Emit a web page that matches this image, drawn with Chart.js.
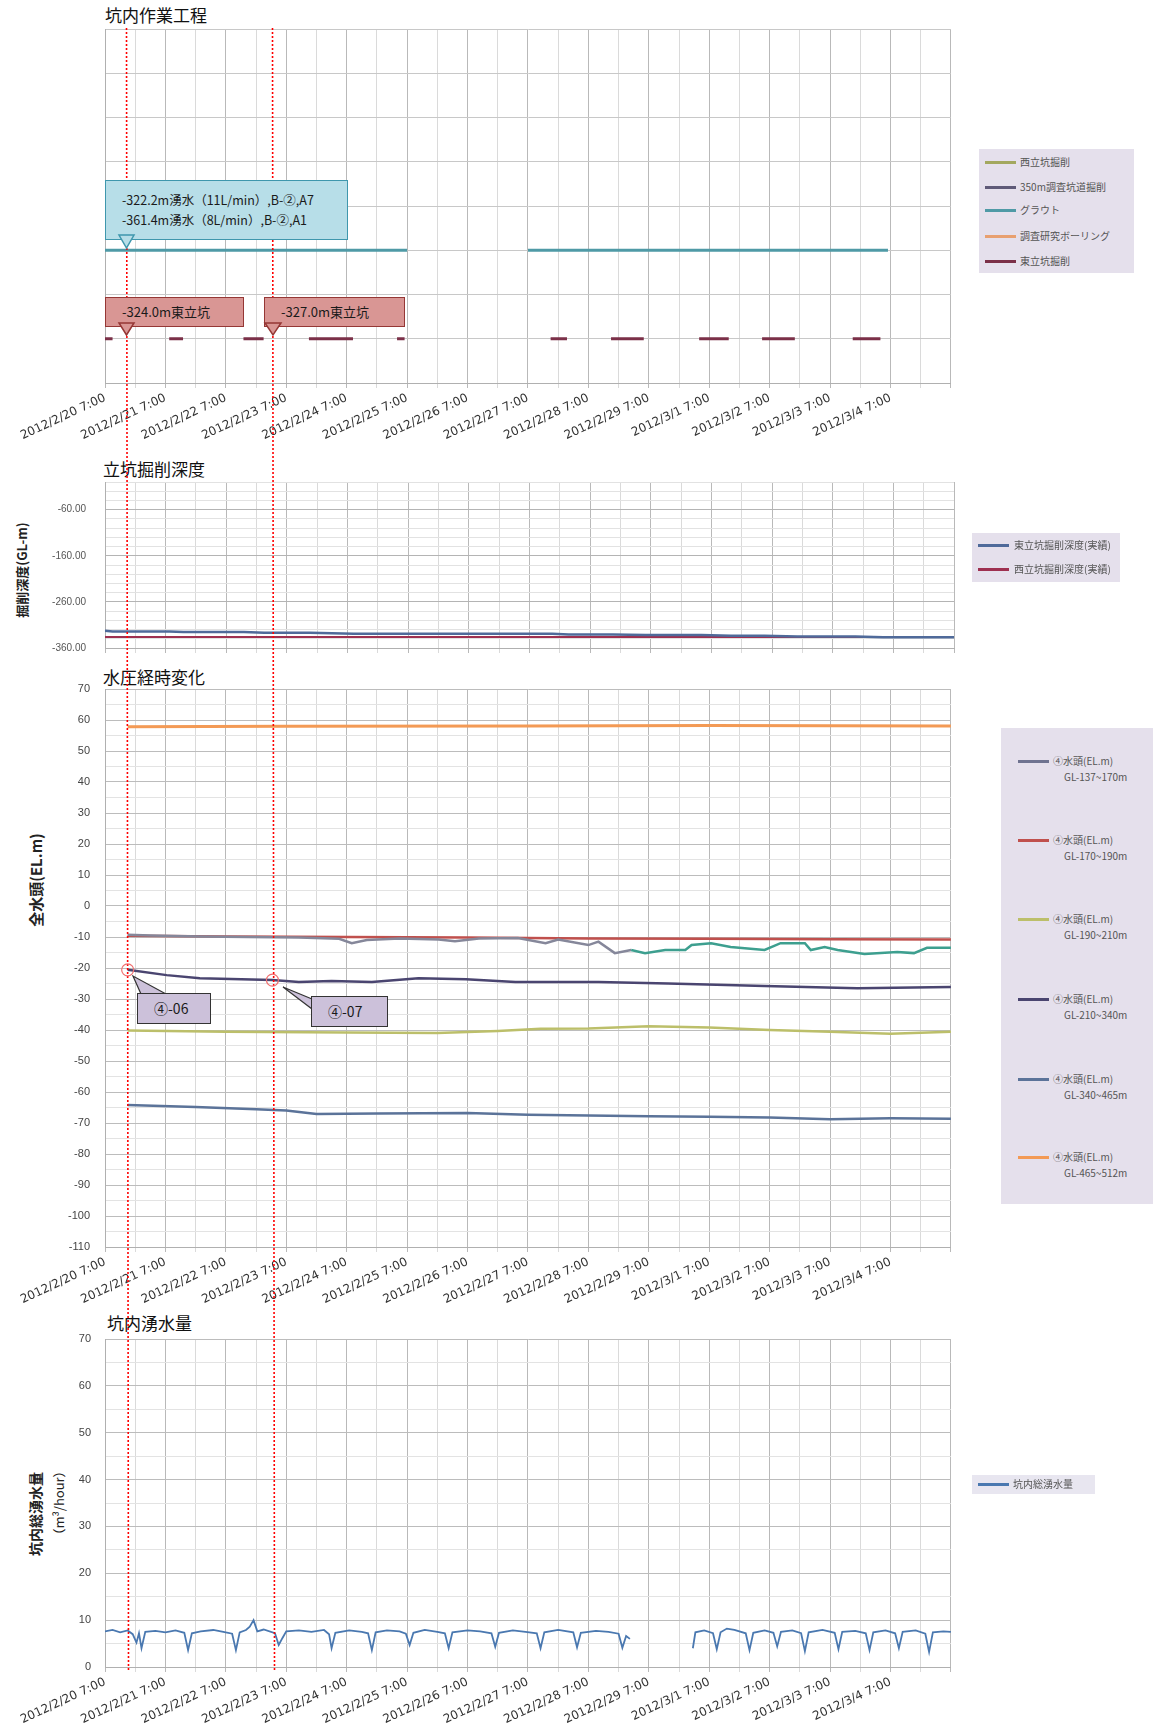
<!DOCTYPE html>
<html lang="ja">
<head>
<meta charset="utf-8">
<title>坑内作業工程・立坑掘削深度・水圧経時変化・坑内湧水量</title>
<script src="https://cdn.jsdelivr.net/npm/chart.js@4.4.1/dist/chart.umd.min.js"></script>
<style>
  html, body { margin: 0; padding: 0; background: #fff; }
  body { position: relative; width: 1153px; height: 1735px; overflow: hidden;
         font-family: "Noto Sans CJK JP", "Noto Sans", sans-serif; }
  canvas { position: absolute; left: 0; }
  .ttl { position: absolute; font-size: 17px; line-height: 20px; color: #111; }
  .ytitle { position: absolute; transform: translate(-50%, -50%) rotate(-90deg); white-space: nowrap;
            font-weight: bold; color: #222; line-height: 1; }
  .legend { position: absolute; background: #e5e0ec; }
  .lg-item { position: absolute; font-size: 10px; line-height: 12px; color: #555; white-space: nowrap; }
  .lg-line { position: absolute; height: 3px; }
  .callout { position: absolute; box-sizing: border-box; color: #1a1a1a; white-space: nowrap; }
  svg.layer { position: absolute; left: 0; top: 0; pointer-events: none; }
</style>
</head>
<body>

<div class="ttl" style="left:105px; top:5px;">坑内作業工程</div>
<div class="ttl" style="left:103px; top:459px;">立坑掘削深度</div>
<div class="ttl" style="left:103px; top:667px;">水圧経時変化</div>
<div class="ttl" style="left:107px; top:1313px;">坑内湧水量</div>

<div class="ytitle" style="left:21px; top:570px; font-size:13px;">掘削深度(GL-m)</div>
<div class="ytitle" style="left:35px; top:880px; font-size:15px;">全水頭(EL.m)</div>
<div class="ytitle" style="left:35px; top:1514px; font-size:14px;">坑内総湧水量</div>
<div class="ytitle" style="left:58px; top:1503px; font-size:13px; font-weight:normal;">（m³/hour）</div>

<canvas id="work" width="960" height="419" style="top:24px"></canvas>
<canvas id="depth" width="960" height="178" style="top:476px"></canvas>
<canvas id="head" width="960" height="627" style="top:680px"></canvas>
<canvas id="flow" width="960" height="401" style="top:1330px"></canvas>

<svg class="layer" id="under" width="1153" height="1735"></svg>

<div class="callout" style="left:105px; top:180px; width:243px; height:60px; background:#b7dee8; border:1.5px solid #3f97ad; font-size:12.5px; line-height:20px; padding:9px 0 0 16px;">
  -322.2m湧水（11L/min）,B-②,A7<br>-361.4m湧水（8L/min）,B-②,A1
</div>
<div class="callout" style="left:105px; top:297px; width:139px; height:30px; background:#d99694; border:1.5px solid #953735; font-size:13px; line-height:28px; padding-left:16px;">-324.0m東立坑</div>
<div class="callout" style="left:264px; top:297px; width:141px; height:30px; background:#d99694; border:1.5px solid #953735; font-size:13px; line-height:28px; padding-left:16px;">-327.0m東立坑</div>
<div class="callout" style="left:137px; top:993px; width:74px; height:31px; background:#ccc1da; border:1.5px solid #333; font-size:14px; line-height:29px; padding-left:16px;">④-06</div>
<div class="callout" style="left:311px; top:996px; width:77px; height:31px; background:#ccc1da; border:1.5px solid #333; font-size:14px; line-height:29px; padding-left:16px;">④-07</div>

<svg class="layer" id="over" width="1153" height="1735"></svg>

<div class="legend" id="lgWork" style="left:979px; top:149px; width:155px; height:124px;"></div>
<div class="legend" id="lgDepth" style="left:972px; top:533px; width:148px; height:49px;"></div>
<div class="legend" id="lgHead" style="left:1001px; top:728px; width:152px; height:476px;"></div>
<div class="legend" id="lgFlow" style="left:972px; top:1475px; width:123px; height:19px; background:#e8e6f0;"></div>

<script>
// ---- time range (2012) ----
const START = '2/20 7:00';
const END = '3/5 7:00';
const HOUR = 3600000;

// ---- 坑内作業工程 ----
const workLabels = ['西立坑掘削', '350m調査坑道掘削', 'グラウト', '調査研究ボーリング', '東立坑掘削'];
const workColors = ['#a3a85f', '#5f5a78', '#4f9aa6', '#e8a070', '#7b3048'];
const groutStart = ['2/20 7:00', '2/27 7:00'];
const groutEnd = ['2/25 7:00', '3/4 6:00'];
const eastDigStart = ['2/20 7:00', '2/21 8:30', '2/22 14:00', '2/23 16:00', '2/25 3:00',
                      '2/27 16:00', '2/28 16:00', '3/1 3:00', '3/2 4:00', '3/3 16:00'];
const eastDigEnd = ['2/20 10:00', '2/21 14:00', '2/22 22:00', '2/24 9:30', '2/25 6:00',
                    '2/27 22:30', '2/29 5:00', '3/1 14:45', '3/2 17:00', '3/4 3:00'];
const groutRow = 3;
const eastDigRow = 1;

// ---- 立坑掘削深度 (GL-m) ----
const eastDepthTimes = ['2/20 7:00', '2/20 10:00', '2/21 8:30', '2/21 14:00', '2/22 14:00', '2/22 22:00',
                        '2/23 16:00', '2/24 9:30', '2/27 16:00', '2/27 22:30', '2/28 16:00', '2/29 5:00',
                        '3/1 3:00', '3/1 14:45', '3/2 4:00', '3/2 17:00', '3/3 16:00', '3/4 3:00', '3/5 7:00'];
const eastDepth = [-322.8, -324.0, -324.0, -325.5, -325.5, -327.0, -327.0, -329.0, -329.0, -330.5,
                   -330.5, -332.0, -332.0, -333.5, -333.5, -335.0, -335.0, -336.5, -336.5];
const westDepthTimes = ['2/20 7:00', '3/5 7:00'];
const westDepth = [-336.0, -336.0];

// ---- 水圧経時変化 (EL.m) ----
const headLabels = ['④水頭(EL.m)\nGL-137~170m', '④水頭(EL.m)\nGL-170~190m', '④水頭(EL.m)\nGL-190~210m',
                    '④水頭(EL.m)\nGL-210~340m', '④水頭(EL.m)\nGL-340~465m', '④水頭(EL.m)\nGL-465~512m'];
const headColors = ['#6f7390', '#c0504d', '#bcbf6a', '#4a4570', '#5b7399', '#f39a55'];
const head1Times = ['2/20 16:00', '2/21 1:00', '2/21 21:00', '2/22 16:00', '2/23 12:00', '2/24 4:00',
                    '2/24 9:00', '2/24 15:00', '2/25 4:00', '2/25 19:30', '2/26 2:00', '2/26 11:30',
                    '2/27 3:00', '2/27 14:00', '2/27 19:00', '2/28 7:00', '2/28 11:00', '2/28 17:30',
                    '2/29 0:00', '2/29 5:30', '2/29 13:30', '2/29 21:30', '3/1 0:00', '3/1 7:45',
                    '3/1 15:30', '3/2 5:00', '3/2 11:20', '3/2 21:00', '3/2 23:20', '3/3 4:50',
                    '3/3 10:00', '3/3 20:40', '3/4 9:40', '3/4 16:20', '3/4 21:30', '3/5 7:00'];
const head1 = [-9.3, -9.5, -9.8, -10.0, -10.2, -10.6, -12.0, -11.0, -10.5, -10.8, -11.4, -10.5,
               -10.3, -12.0, -10.8, -12.6, -11.5, -15.2, -14.2, -15.2, -14.2, -14.2, -12.6, -12.0,
               -13.2, -14.2, -12.0, -12.0, -14.2, -13.2, -14.2, -15.5, -14.8, -15.2, -13.5, -13.5];
const head1TealFrom = '2/29 0:00';
const head2Times = ['2/20 16:00', '2/22 7:00', '2/24 7:00', '2/26 7:00', '2/28 7:00', '3/1 7:00', '3/3 7:00', '3/5 7:00'];
const head2 = [-9.6, -9.8, -10.0, -10.2, -10.5, -10.6, -10.7, -10.8];
const head3Times = ['2/20 16:00', '2/22 7:00', '2/24 7:00', '2/25 19:00', '2/26 19:00', '2/27 12:00', '2/28 7:00',
                    '2/29 7:00', '3/1 7:00', '3/2 7:00', '3/3 7:00', '3/4 7:00', '3/5 7:00'];
const head3 = [-40.2, -40.6, -40.8, -41.0, -40.3, -39.6, -39.5, -38.8, -39.2, -40.0, -40.6, -41.2, -40.6];
const head4Times = ['2/20 16:00', '2/21 7:30', '2/21 20:40', '2/23 1:30', '2/23 12:00', '2/24 1:00', '2/24 17:00',
                    '2/25 11:30', '2/26 6:20', '2/27 2:00', '2/28 11:00', '2/29 14:40', '3/2 5:00', '3/3 17:50', '3/5 7:00'];
const head4 = [-20.6, -22.3, -23.3, -23.9, -24.5, -24.2, -24.5, -23.3, -23.6, -24.5, -24.5, -25.0, -25.8, -26.5, -26.1];
const head5Times = ['2/20 16:00', '2/21 19:00', '2/22 19:00', '2/23 7:00', '2/23 19:00', '2/24 19:00', '2/26 7:00',
                    '2/27 7:00', '2/28 7:00', '2/29 7:00', '3/1 7:00', '3/2 7:00', '3/3 7:00', '3/4 7:00', '3/5 7:00'];
const head5 = [-64.2, -64.8, -65.6, -66.0, -67.1, -66.9, -66.8, -67.3, -67.6, -67.8, -68.0, -68.2, -68.8, -68.5, -68.6];
const head6Times = ['2/20 16:00', '2/23 7:00', '2/27 7:00', '3/1 7:00', '3/5 7:00'];
const head6 = [57.8, 58.0, 58.1, 58.2, 58.1];
// section marks on the ④ line
const sectionMarks = [['2/20 16:00', -20.6], ['2/23 1:30', -23.9]];

// ---- 坑内総湧水量 (m3/hour) ----
const flowTimes = ['2/20 7:00', '2/20 10:00', '2/20 13:00', '2/20 16:00', '2/20 18:00', '2/20 19:30', '2/20 20:30',
  '2/20 21:30', '2/20 23:00', '2/21 3:00', '2/21 7:00', '2/21 11:00', '2/21 14:30', '2/21 16:00', '2/21 17:30',
  '2/21 21:00', '2/22 2:00', '2/22 6:00', '2/22 9:30', '2/22 11:00', '2/22 12:30', '2/22 15:00', '2/22 16:30',
  '2/22 18:00', '2/22 19:30', '2/22 22:00', '2/23 2:30', '2/23 4:00', '2/23 5:30', '2/23 7:00', '2/23 12:00',
  '2/23 17:00', '2/23 22:00', '2/24 0:00', '2/24 1:00', '2/24 2:30', '2/24 8:00', '2/24 13:00', '2/24 15:30',
  '2/24 17:00', '2/24 18:30', '2/24 23:00', '2/25 4:00', '2/25 6:30', '2/25 8:00', '2/25 9:30', '2/25 14:00',
  '2/25 19:00', '2/25 22:00', '2/25 23:30', '2/26 1:00', '2/26 7:00', '2/26 12:00', '2/26 16:30', '2/26 18:00',
  '2/26 19:30', '2/27 1:00', '2/27 6:00', '2/27 10:30', '2/27 12:00', '2/27 13:30', '2/27 19:00', '2/28 1:00',
  '2/28 2:30', '2/28 4:00', '2/28 10:00', '2/28 15:00', '2/28 19:00', '2/28 20:30', '2/28 22:00', '2/28 23:30',
  '2/29 12:00',
  '3/1 0:30', '3/1 1:30', '3/1 5:00', '3/1 8:30', '3/1 10:00', '3/1 11:30', '3/1 14:00', '3/1 17:00', '3/1 21:30',
  '3/1 23:00', '3/2 0:30', '3/2 5:00', '3/2 8:30', '3/2 10:00', '3/2 11:30', '3/2 16:00', '3/2 19:30', '3/2 21:00',
  '3/2 22:30', '3/3 4:00', '3/3 8:50', '3/3 10:20', '3/3 11:50', '3/3 17:00', '3/3 21:10', '3/3 22:40', '3/4 0:10',
  '3/4 5:00', '3/4 8:50', '3/4 10:20', '3/4 11:50', '3/4 17:00', '3/4 20:50', '3/4 22:20', '3/4 23:50', '3/5 4:00',
  '3/5 7:00'];
const flow = [7.6, 7.9, 7.4, 7.8, 7.0, 5.2, 7.2,
  4.0, 7.5, 7.7, 7.4, 7.8, 7.3, 3.6, 7.2,
  7.6, 7.9, 7.5, 7.1, 3.6, 7.4, 7.9, 8.6,
  10.0, 7.6, 8.0, 7.2, 4.7, 6.2, 7.6, 7.8,
  7.5, 7.9, 7.0, 4.0, 7.3, 7.8, 7.5, 7.2,
  3.6, 7.4, 7.8, 7.6, 7.1, 4.7, 7.3, 7.9,
  7.5, 7.2, 4.0, 7.4, 7.8, 7.6, 7.2, 4.3,
  7.3, 7.8, 7.5, 7.2, 4.0, 7.4, 7.9, 7.4,
  4.2, 7.3, 7.7, 7.5, 7.1, 4.1, 6.6, 6.0,
  null,
  4.0, 7.4, 7.8, 7.2, 3.8, 7.4, 8.2, 7.9, 7.2,
  3.6, 7.3, 7.8, 7.3, 4.4, 7.5, 7.8, 7.2, 3.4,
  7.4, 7.9, 7.3, 3.8, 7.5, 7.7, 7.2, 3.6, 7.4,
  7.8, 7.2, 4.0, 7.5, 7.8, 7.1, 3.2, 7.4, 7.6,
  7.5];

// red dotted reference times
const markerTimes = ['2/20 15:30', '2/23 1:30'];

// ---- helpers ----
function t(s) {
  const [md, hm] = s.split(' ');
  const [m, d] = md.split('/').map(Number);
  const [h, mi] = hm.split(':').map(Number);
  return Date.UTC(2012, m - 1, d, h, mi);
}
const isDay = v => new Date(v).getUTCHours() === 7;
const fmt = v => { const d = new Date(v); return `2012/${d.getUTCMonth() + 1}/${d.getUTCDate()} ${d.getUTCHours()}:00`; };
const pts = (times, vals) => times.map((s, i) => ({ x: t(s), y: vals[i] }));
function bars(starts, ends, row) {
  const out = [];
  starts.forEach((s, i) => {
    out.push({ x: t(s), y: row }, { x: t(ends[i]), y: row }, { x: t(ends[i]) + 1, y: null });
  });
  return out;
}
// fixed y-axis width, no extra label padding above/below the plot
const fixY = s => { s.width = 105; s.paddingTop = 0; s.paddingBottom = 0; };

Chart.defaults.font.family = '"Liberation Sans", sans-serif';
Chart.defaults.color = '#333';

function xAxis(showLabels, height) {
  return {
    type: 'linear', min: t(START), max: t(END),
    afterBuildTicks: s => {
      s.ticks = [];
      for (let v = t(START); v <= t(END); v += 12 * HOUR) s.ticks.push({ value: v });
    },
    afterFit: s => { s.height = height; },
    grid: { color: c => isDay(c.tick.value) ? '#b9b9b9' : '#dadada', tickLength: 5, drawTicks: true },
    border: { color: '#b0b0b0' },
    ticks: {
      display: showLabels, autoSkip: false, minRotation: 25, maxRotation: 25, padding: 3,
      color: '#333', font: { family: '"DejaVu Sans", sans-serif', size: 12 },
      callback: v => (isDay(v) && v < t(END)) ? fmt(v) : ''
    }
  };
}

const common = {
  responsive: false, animation: false,
  plugins: { legend: { display: false }, tooltip: { enabled: false } },
  elements: { point: { radius: 0 }, line: { tension: 0 } }
};

// 坑内作業工程
const workChart = new Chart(document.getElementById('work'), {
  type: 'line',
  data: {
    datasets: workLabels.map((label, i) => ({
      label, borderColor: workColors[i], borderWidth: 3,
      data: i === 2 ? bars(groutStart, groutEnd, groutRow) : i === 4 ? bars(eastDigStart, eastDigEnd, eastDigRow) : []
    }))
  },
  options: {
    ...common,
    layout: { padding: { left: 0, right: 6, top: 5, bottom: 0 } },
    scales: {
      x: xAxis(true, 60),
      y: {
        min: 0, max: 8, ticks: { stepSize: 1, display: false },
        grid: { color: '#c8c8c8', drawTicks: false }, border: { color: '#b0b0b0' },
        afterFit: fixY
      }
    }
  }
});

// 立坑掘削深度
const depthChart = new Chart(document.getElementById('depth'), {
  type: 'line',
  data: {
    datasets: [
      { label: '東立坑掘削深度(実績)', borderColor: '#4f6a9a', borderWidth: 2.5, data: pts(eastDepthTimes, eastDepth) },
      { label: '西立坑掘削深度(実績)', borderColor: '#9e3050', borderWidth: 2, data: pts(westDepthTimes, westDepth) }
    ]
  },
  options: {
    ...common,
    layout: { padding: { left: 0, right: 6, top: 6, bottom: 0 } },
    scales: {
      x: xAxis(false, 6),
      y: {
        min: -360, max: 0,
        afterBuildTicks: s => { s.ticks = []; for (let v = -360; v <= 0; v += 20) s.ticks.push({ value: v }); },
        ticks: { autoSkip: false, padding: 19, color: '#555', font: { size: 10 },
                 callback: v => ((v + 360) % 100 === 0 && v < 0) ? v.toFixed(2) : '' },
        grid: { color: c => (c.tick.value + 360) % 100 === 0 ? '#b4b4b4' : '#e2e2e2', drawTicks: false },
        border: { color: '#b0b0b0' },
        afterFit: fixY
      }
    }
  }
});

// 水圧経時変化
const headSeries = [[head1Times, head1], [head2Times, head2], [head3Times, head3],
                    [head4Times, head4], [head5Times, head5], [head6Times, head6]];
const headChart = new Chart(document.getElementById('head'), {
  type: 'line',
  data: {
    datasets: headSeries.map(([times, vals], i) => ({
      label: headLabels[i], borderColor: headColors[i], borderWidth: i === 5 ? 3 : 2.5,
      data: pts(times, vals),
      segment: i === 0 ? { borderColor: c => c.p0.parsed.x >= t(head1TealFrom) ? '#3d9f8f' : '#85879a' } : undefined
    }))
  },
  options: {
    ...common,
    layout: { padding: { left: 0, right: 6, top: 9, bottom: 0 } },
    scales: {
      x: xAxis(true, 60),
      y: {
        min: -110, max: 70,
        ticks: { stepSize: 5, autoSkip: false, padding: 15, color: '#444', font: { size: 11 },
                 callback: v => v % 10 === 0 ? v : '' },
        grid: { color: c => c.tick.value % 10 === 0 ? '#bcbcbc' : '#e3e3e3', drawTicks: false },
        border: { color: '#b0b0b0' },
        afterFit: fixY
      }
    }
  }
});

// 坑内湧水量
const flowChart = new Chart(document.getElementById('flow'), {
  type: 'line',
  data: {
    datasets: [{ label: '坑内総湧水量', borderColor: '#4a78b0', borderWidth: 1.8, data: pts(flowTimes, flow) }]
  },
  options: {
    ...common,
    layout: { padding: { left: 0, right: 6, top: 9, bottom: 0 } },
    scales: {
      x: xAxis(true, 64),
      y: {
        min: 0, max: 70,
        ticks: { stepSize: 5, autoSkip: false, padding: 14, color: '#444', font: { size: 11 },
                 callback: v => v % 10 === 0 ? v : '' },
        grid: { color: c => c.tick.value % 10 === 0 ? '#bcbcbc' : '#e3e3e3', drawTicks: false },
        border: { color: '#b0b0b0' },
        afterFit: fixY
      }
    }
  }
});

// ---- legends (built from the chart datasets) ----
function legend(boxId, chart, rows, lineX, textX) {
  const box = document.getElementById(boxId);
  const sets = chart.data.datasets.slice().sort((a, b) => rows.order(a) - rows.order(b));
  sets.forEach((ds, i) => {
    const y = rows.y[i];
    const line = document.createElement('div');
    line.className = 'lg-line';
    line.style.cssText = `left:${lineX}px; width:31px; top:${y - 1}px; background:${ds.borderColor};`;
    box.appendChild(line);
    ds.label.split('\n').forEach((p, k) => {
      const tx = document.createElement('div');
      tx.className = 'lg-item';
      tx.textContent = p;
      tx.style.cssText = `left:${textX + (k ? 11 : 0)}px; top:${y - 6 + k * 16}px;`;
      box.appendChild(tx);
    });
  });
}
const byLabel = list => ds => list.indexOf(ds.label);
legend('lgWork', workChart, { y: [13, 38, 61, 87, 112], order: byLabel(workLabels) }, 6, 41);
legend('lgDepth', depthChart, { y: [12, 36], order: byLabel(['東立坑掘削深度(実績)', '西立坑掘削深度(実績)']) }, 6, 42);
legend('lgHead', headChart, { y: [33, 112, 191, 271, 351, 429], order: byLabel(headLabels) }, 17, 52);
legend('lgFlow', flowChart, { y: [9], order: () => 0 }, 6, 41);

// ---- overlays ----
const NS = 'http://www.w3.org/2000/svg';
function el(svgId, tag, attrs) {
  const e = document.createElementNS(NS, tag);
  for (const k in attrs) e.setAttribute(k, attrs[k]);
  document.getElementById(svgId).appendChild(e);
  return e;
}
const xs = workChart.scales.x;
markerTimes.forEach(s => {
  const x = Math.round(xs.getPixelForValue(t(s))) + 0.5;
  el('under', 'line', { x1: x, y1: 28, x2: x + 2, y2: 1670, stroke: '#ff0000', 'stroke-width': 1.6, 'stroke-dasharray': '2 2' });
});

// circled section marks on the ④ line
const headTop = 680;
sectionMarks.forEach(([s, v]) => {
  const cx = headChart.scales.x.getPixelForValue(t(s));
  const cy = headChart.scales.y.getPixelForValue(v) + headTop;
  el('under', 'circle', { cx, cy, r: 6, fill: 'none', stroke: '#f07070', 'stroke-width': 1.2 });
});
// callout tails
el('under', 'polygon', { points: '141,994 133,976 166,994', fill: '#ccc1da', stroke: '#333', 'stroke-width': 1.2 });
el('under', 'polygon', { points: '312,999 283,987 312,1009', fill: '#ccc1da', stroke: '#333', 'stroke-width': 1.2 });

// pointer triangles on the work callouts
el('over', 'polygon', { points: '119,235 134,235 126.5,248', fill: '#b7dee8', stroke: '#3f97ad', 'stroke-width': 1.5 });
el('over', 'polygon', { points: '119,323 134,323 126.5,335', fill: '#d99694', stroke: '#953735', 'stroke-width': 1.5 });
el('over', 'polygon', { points: '265,323 281,323 273,335', fill: '#d99694', stroke: '#953735', 'stroke-width': 1.5 });
</script>
</body>
</html>
